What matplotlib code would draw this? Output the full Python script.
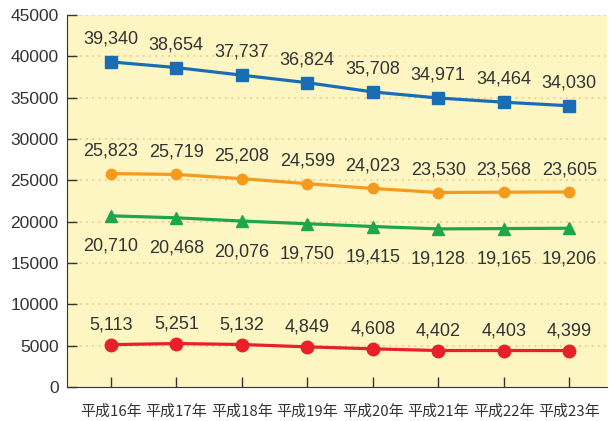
import matplotlib.pyplot as plt

plt.rcParams['font.family'] = ['Noto Sans CJK JP', 'DejaVu Sans']

years = ["平成16年", "平成17年", "平成18年", "平成19年", "平成20年", "平成21年", "平成22年", "平成23年"]
blue_vals = [39340, 38654, 37737, 36824, 35708, 34971, 34464, 34030]
orange_vals = [25823, 25719, 25208, 24599, 24023, 23530, 23568, 23605]
green_vals = [20710, 20468, 20076, 19750, 19415, 19128, 19165, 19206]
red_vals = [5113, 5251, 5132, 4849, 4608, 4402, 4403, 4399]

fig = plt.figure(figsize=(6.09, 4.21), dpi=100)
ax = fig.add_axes([0.110, 0.081, 0.887, 0.883])
ax.set_facecolor('#fdf6c3')

x = list(range(len(years)))
num_font = ['Liberation Sans', 'DejaVu Sans']

# series: values, colour, marker, marker size, label offset (points)
series = [
    (blue_vals, '#1a6db5', 's', 8.5, 16.5),
    (orange_vals, '#f39a1f', 'o', 7.5, 16),
    (green_vals, '#1ea64a', '^', 8.5, -22),
    (red_vals, '#e8202a', 'o', 9, 14),
]

for vals, col, mk, ms, dy in series:
    ax.plot(x, vals, color=col, lw=2.3, marker=mk, ms=ms, zorder=3)
    for xi, v in zip(x, vals):
        ax.annotate(f"{v:,}", (xi, v), xytext=(0, dy), textcoords='offset points',
                    ha='center', va='center', fontsize=13, color='#333333',
                    family=num_font)

ax.set_ylim(0, 45000)
ax.set_xlim(-0.67, 7.58)
ax.set_yticks(range(0, 45001, 5000))
ax.set_xticks(x)
ax.set_xticklabels(years, fontsize=10.8, color='#333333')
for lab in ax.get_yticklabels():
    lab.set_fontsize(12.5)
    lab.set_color('#333333')
    lab.set_family(num_font)

for yv in range(5000, 45001, 5000):
    ax.axhline(yv, color='#f7c68a', lw=1.3, ls=(0, (1, 2.5)), zorder=1)

ax.tick_params(axis='both', direction='in', length=7, width=1, color='#333333')
ax.tick_params(axis='x', pad=13)
ax.tick_params(axis='y', pad=6)
ax.spines['top'].set_visible(False)
ax.spines['right'].set_visible(False)
ax.spines['left'].set_color('#333333')
ax.spines['bottom'].set_color('#333333')

fig.savefig('out.png', dpi=100)
